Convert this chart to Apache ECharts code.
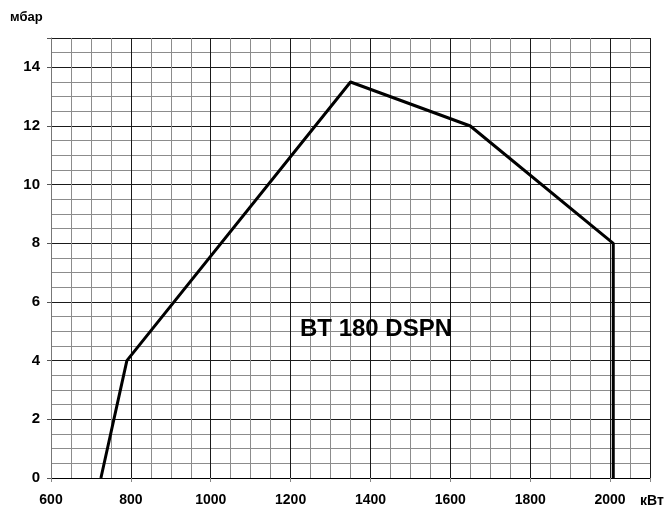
<!DOCTYPE html>
<html>
<head>
<meta charset="utf-8">
<script src="https://cdn.jsdelivr.net/npm/echarts@6/dist/echarts.min.js"></script>
<style>
  html, body { margin: 0; padding: 0; background: #fff; }
  #chart { width: 666px; height: 507px; }
</style>
</head>
<body>
<div id="chart"></div>
<script>
// данные кривой (кВт, мбар)
var powerKW = [725, 790, 1350, 1650, 2008, 2008];
var pressureMbar = [0, 4, 13.5, 12, 8, 0];
var xTicks = [600, 800, 1000, 1200, 1400, 1600, 1800, 2000];
var yTicks = [0, 2, 4, 6, 8, 10, 12, 14];

var points = [];
for (let i in powerKW) {
  points.push([powerKW[i], pressureMbar[i]]);
}

var myChart = echarts.init(document.getElementById('chart'));
var font = 'Liberation Sans, Arial, sans-serif';

var option = {
  animation: false,
  grid: { left: 51, right: 16, top: 38, bottom: 28 },
  xAxis: {
    type: 'value',
    min: 600,
    max: 2100,
    interval: 200,
    axisLine: { show: true, onZero: false, lineStyle: { color: '#000', width: 1 } },
    axisTick: { show: true, length: 4, lineStyle: { color: '#888' } },
    axisLabel: {
      color: '#000', fontWeight: 'bold', fontSize: 14, fontFamily: font, margin: 15,
      formatter: function (v) { return xTicks.indexOf(v) >= 0 ? v : ''; }
    },
    splitLine: { show: true, lineStyle: { color: '#1a1a1a', width: 1 } },
    minorTick: { show: false, splitNumber: 4 },
    minorSplitLine: { show: true, lineStyle: { color: '#8c8c8c', width: 1 } }
  },
  yAxis: {
    type: 'value',
    min: 0,
    max: 15,
    interval: 2,
    axisLine: { show: true, lineStyle: { color: '#777', width: 1 } },
    axisTick: { show: true, length: 4, lineStyle: { color: '#555' } },
    axisLabel: {
      color: '#000', fontWeight: 'bold', fontSize: 15, fontFamily: font, margin: 11,
      formatter: function (v) { return yTicks.indexOf(v) >= 0 ? v : ''; }
    },
    splitLine: { show: true, lineStyle: { color: '#1a1a1a', width: 1 } },
    minorTick: { show: false, splitNumber: 4 },
    minorSplitLine: { show: true, lineStyle: { color: '#8c8c8c', width: 1 } }
  },
  graphic: [
    {
      type: 'text', left: 10, top: 11, z: 100,
      style: { text: 'мбар', font: 'bold 13px ' + font, fill: '#000' }
    },
    {
      type: 'text', left: 640, top: 494, z: 100,
      style: { text: 'кВт', font: 'bold 14px ' + font, fill: '#000' }
    },
    {
      type: 'text', left: 300, top: 317, z: 100,
      style: { text: 'BT 180 DSPN', font: 'bold 24px ' + font, fill: '#000' }
    }
  ],
  series: [
    {
      type: 'line',
      data: points,
      symbol: 'none',
      lineStyle: { color: '#000', width: 3 },
      z: 5
    }
  ]
};

myChart.setOption(option);
</script>
</body>
</html>
